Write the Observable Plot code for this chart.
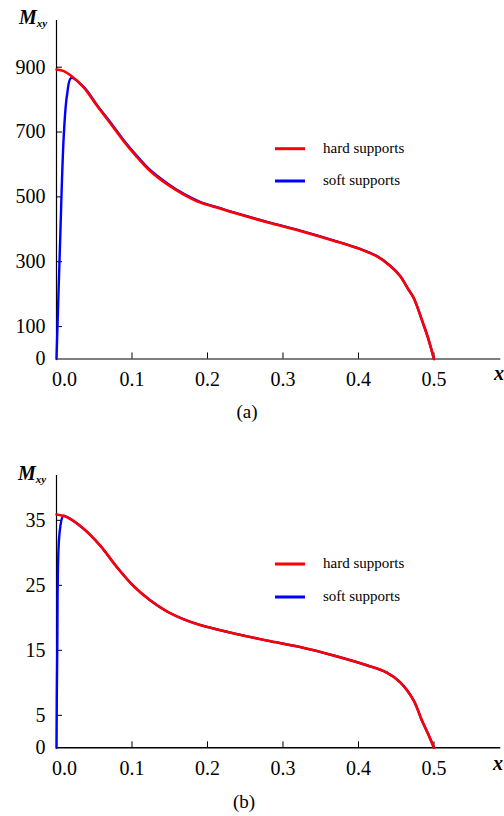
<!DOCTYPE html>
<html>
<head>
<meta charset="utf-8">
<script src="https://cdn.jsdelivr.net/npm/d3@7"></script>
<script src="https://cdn.jsdelivr.net/npm/@observablehq/plot@0.6"></script>
<style>
  html, body { margin: 0; padding: 0; background: #fff; }
  #root { position: relative; width: 504px; height: 816px; background: #fff; overflow: hidden; }
  #root > svg { position: absolute; left: 0; }
  .over { position: absolute; left: 0; top: 0; pointer-events: none; }
</style>
</head>
<body>
<div id="root"></div>
<script>
// ---------- data ----------
// Chart (a)
const xHardA = [0, 0.0097, 0.0185, 0.036, 0.054, 0.071, 0.089, 0.107, 0.124, 0.146, 0.168, 0.19, 0.217, 0.235, 0.279, 0.323, 0.367, 0.402, 0.424, 0.442, 0.455, 0.466, 0.473, 0.486, 0.492, 0.5];
const yHardA = [893, 888, 875, 838, 780, 728, 672, 622, 580, 540, 508, 483, 464, 451, 422, 395, 365, 339, 317, 287, 256, 215, 189, 107, 66, 0];
const xSoftA = [0, 0.0044, 0.0097, 0.014, 0.0195, 0.036, 0.054, 0.071, 0.089, 0.107, 0.124, 0.146, 0.168, 0.19, 0.217, 0.235, 0.279, 0.323, 0.367, 0.402, 0.424, 0.442, 0.455, 0.466, 0.473, 0.486, 0.492, 0.5];
const ySoftA = [0, 333, 692, 815, 867, 839, 782, 731, 675, 625, 583, 543, 510, 485, 465, 452, 423, 396, 366, 340, 318, 288, 257, 215, 189, 107, 66, 0];
const yTicksA = [0, 100, 300, 500, 700, 900];

// Chart (b)
const xHardB = [0, 0.014, 0.036, 0.058, 0.08, 0.102, 0.124, 0.146, 0.168, 0.19, 0.217, 0.235, 0.279, 0.323, 0.367, 0.411, 0.437, 0.455, 0.473, 0.484, 0.492, 0.5];
const yHardB = [35.9, 35.5, 33.7, 31.1, 27.8, 24.9, 22.7, 21.0, 19.8, 18.9, 18.1, 17.6, 16.5, 15.5, 14.2, 12.7, 11.6, 10.1, 7.3, 4.2, 2.2, 0];
const xSoftB = [0, 0.001, 0.004, 0.009, 0.014, 0.036, 0.058, 0.08, 0.102, 0.124, 0.146, 0.168, 0.19, 0.217, 0.235, 0.279, 0.323, 0.367, 0.411, 0.437, 0.455, 0.473, 0.484, 0.492, 0.5];
const ySoftB = [0, 15, 33, 35.7, 35.5, 33.7, 31.1, 27.8, 24.9, 22.7, 21.0, 19.8, 18.9, 18.1, 17.6, 16.5, 15.5, 14.2, 12.7, 11.6, 10.1, 7.3, 4.2, 2.2, 0];
const yTicksB = [0, 5, 15, 25, 35];

const xTicks = [0.1, 0.2, 0.3, 0.4, 0.5];
const seriesNames = ["hard supports", "soft supports"];
const seriesColors = ["#ff0000", "#0000ff"];

// ---------- drawing ----------
const root = document.getElementById("root");
const FONT = "'Liberation Serif', 'Times New Roman', serif";

function chart({xh, yh, xs, ys, yMax, yTicks, top, height, marginTop, bottomPx, xAxisColor}) {
  const hard = xh.map((x, i) => ({x, y: yh[i]}));
  const soft = xs.map((x, i) => ({x, y: ys[i]}));
  const svg = Plot.plot({
    width: 504,
    height,
    marginLeft: 56,
    marginRight: 3.7,
    marginTop,
    marginBottom: height - bottomPx,
    x: {domain: [0, 0.5885]},
    y: {domain: [0, yMax]},
    style: {fontFamily: FONT, fontSize: "20px", color: "#000", background: "transparent", overflow: "visible"},
    marks: [
      Plot.ruleX([0], {stroke: "#000", strokeWidth: 1.2}),
      Plot.ruleY([0], {stroke: xAxisColor, strokeWidth: 1.6}),
      Plot.axisY({ticks: yTicks, tickSize: 0, tickPadding: 11, label: null, fontSize: 20}),
      Plot.axisY({ticks: yTicks.filter(d => d !== 0), tickSize: -6, tickFormat: () => "", label: null}),
      Plot.axisX({ticks: xTicks, tickSize: 0, tickPadding: 13, tickFormat: d3.format(".1f"), label: null, fontSize: 20}),
      Plot.axisX({ticks: [0], tickSize: 0, tickPadding: 13, tickFormat: d3.format(".1f"), label: null, fontSize: 20, dx: 8}),
      Plot.axisX({ticks: xTicks, tickSize: -6, tickFormat: () => "", label: null}),
      Plot.line(soft, {x: "x", y: "y", stroke: seriesColors[1], strokeWidth: 2.4, curve: "catmull-rom"}),
      Plot.line(hard, {x: "x", y: "y", stroke: seriesColors[0], strokeWidth: 2.6, curve: "catmull-rom"})
    ]
  });
  svg.style.top = top + "px";
  root.appendChild(svg);
}

chart({xh: xHardA, yh: yHardA, xs: xSoftA, ys: ySoftA, yMax: 1044, yTicks: yTicksA,
       top: 0, height: 392, marginTop: 20, bottomPx: 358.5, xAxisColor: "#555"});
chart({xh: xHardB, yh: yHardB, xs: xSoftB, ys: ySoftB, yMax: 41.9, yTicks: yTicksB,
       top: 440, height: 340, marginTop: 35, bottomPx: 307.3, xAxisColor: "#000"});

// ---------- annotations: axis titles, captions, legends ----------
const ov = d3.select(root).append("svg").attr("class", "over")
  .attr("width", 504).attr("height", 816)
  .style("font-family", FONT);

function yTitle(x, y) {
  const t = ov.append("text").attr("x", x).attr("y", y)
    .attr("font-size", 20).attr("font-weight", "bold").attr("font-style", "italic");
  t.append("tspan").text("M");
  t.append("tspan").attr("font-size", 11).attr("dy", 3).text("xy");
}
function xTitle(x, y) {
  ov.append("text").attr("x", x).attr("y", y).attr("font-size", 20)
    .attr("font-weight", "bold").attr("font-style", "italic").text("x");
}
function caption(x, y, s) {
  ov.append("text").attr("x", x).attr("y", y).attr("font-size", 19)
    .attr("text-anchor", "middle").text(s);
}
function legend(yLines) {
  seriesNames.forEach((name, i) => {
    const y = yLines[i];
    ov.append("line").attr("x1", 275).attr("x2", 305).attr("y1", y).attr("y2", y)
      .attr("stroke", seriesColors[i]).attr("stroke-width", 3);
    ov.append("text").attr("x", 323).attr("y", y + 4).attr("font-size", 15).text(name);
  });
}

yTitle(19, 24);
xTitle(494, 380);
caption(247, 418, "(a)");
legend([148.7, 181]);

yTitle(18, 480);
xTitle(493, 770);
caption(244, 808, "(b)");
legend([564, 597]);
</script>
</body>
</html>
